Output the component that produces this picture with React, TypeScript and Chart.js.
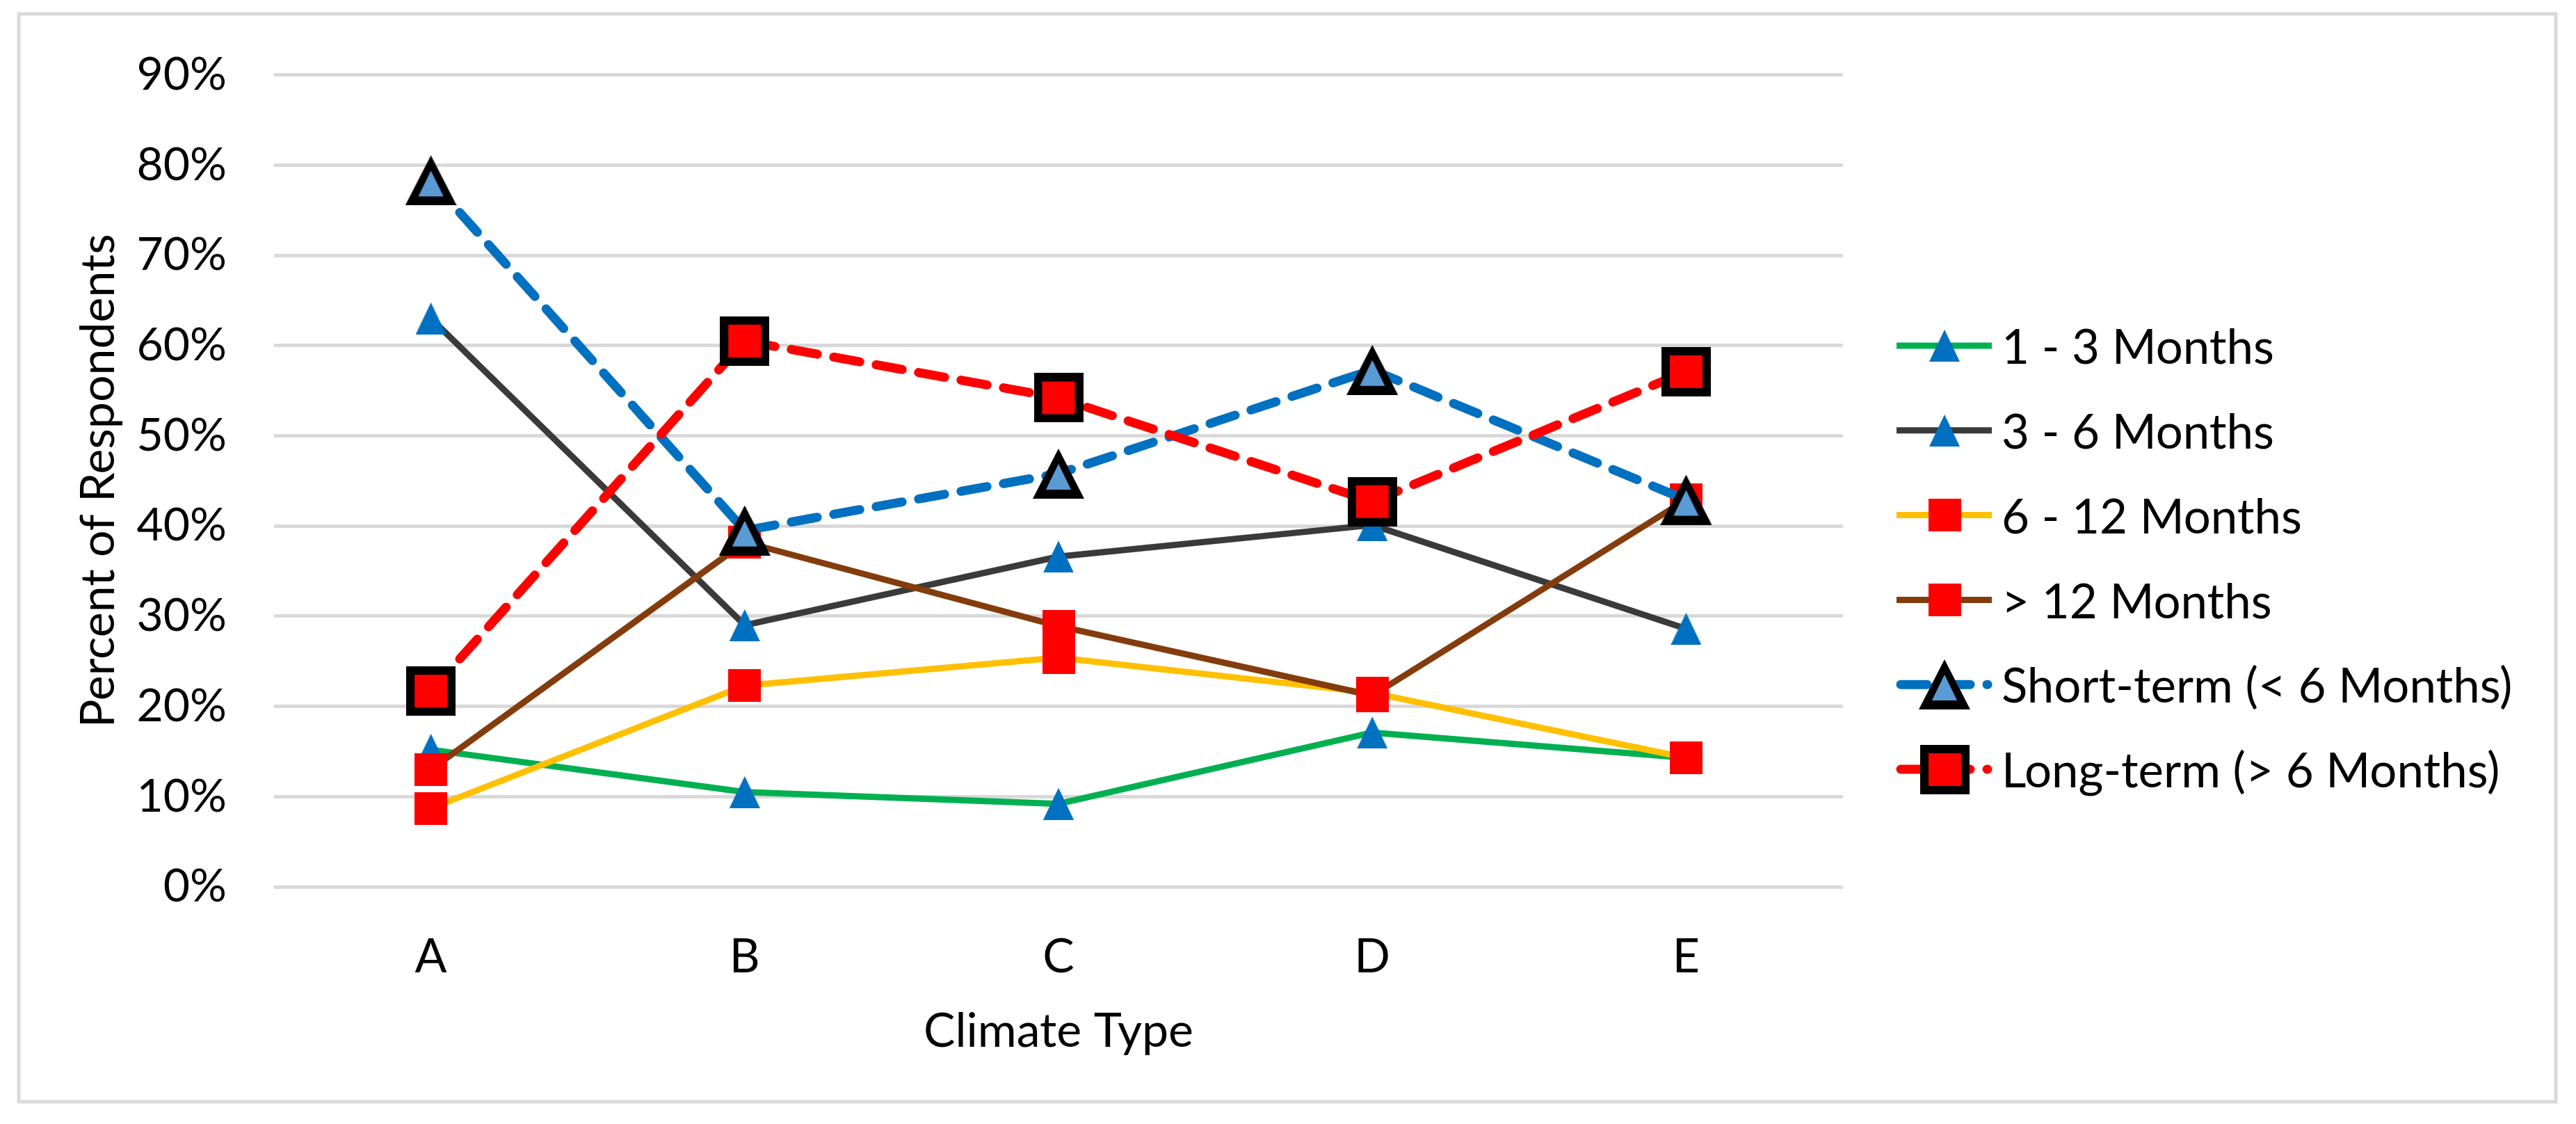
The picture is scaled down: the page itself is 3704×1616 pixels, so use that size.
import React, { useEffect, useRef } from 'react';
import { Chart, registerables } from 'chart.js';

Chart.register(...registerables);

// ---- data ----
const categories = ['A', 'B', 'C', 'D', 'E'];
const seriesLabels = [
  '1 - 3 Months',
  '3 - 6 Months',
  '6 - 12 Months',
  '> 12 Months',
  'Short-term (< 6 Months)',
  'Long-term (> 6 Months)',
];
const oneToThree = [15.2, 10.5, 9.2, 17.1, 14.3];
const threeToSix = [63.0, 29.0, 36.6, 40.1, 28.6];
const sixToTwelve = [8.7, 22.3, 25.4, 21.5, 14.3];
const overTwelve = [13.0, 38.2, 28.9, 21.2, 42.9];
const shortTerm = [78.3, 39.5, 45.8, 57.3, 42.9];
const longTerm = [21.7, 60.5, 54.2, 42.7, 57.1];
const yMin = 0;
const yMax = 90;
const yStep = 10;
const xTitle = 'Climate Type';
const yTitle = 'Percent of Respondents';

const FONT = 'Lato, "Open Sans", sans-serif';
const W = 3704;
const H = 1616;

function makeMarker(w: number, h: number, draw: (c: CanvasRenderingContext2D) => void) {
  const cv = document.createElement('canvas');
  cv.width = w;
  cv.height = h;
  const c = cv.getContext('2d')!;
  draw(c);
  return cv;
}

function smallTriangle() {
  return makeMarker(44, 46, (c) => {
    c.fillStyle = '#0070C0';
    c.beginPath();
    c.moveTo(22, 0);
    c.lineTo(44, 46);
    c.lineTo(0, 46);
    c.closePath();
    c.fill();
  });
}

function bigTriangle() {
  return makeMarker(74, 72, (c) => {
    c.fillStyle = '#000000';
    c.beginPath();
    c.moveTo(37, 0);
    c.lineTo(74, 72);
    c.lineTo(0, 72);
    c.closePath();
    c.fill();
    c.fillStyle = '#5B9BD5';
    c.beginPath();
    c.moveTo(37, 22);
    c.lineTo(55, 59);
    c.lineTo(19, 59);
    c.closePath();
    c.fill();
  });
}

function smallSquare() {
  return makeMarker(47, 47, (c) => {
    c.fillStyle = '#FF0000';
    c.fillRect(0, 0, 47, 47);
  });
}

function bigSquare() {
  return makeMarker(71, 71, (c) => {
    c.fillStyle = '#000000';
    c.fillRect(0, 0, 71, 71);
    c.fillStyle = '#FF0000';
    c.fillRect(12, 12, 47, 47);
  });
}

const frameAndLegend = {
  id: 'frameAndLegend',
  beforeDraw(chart: any) {
    const ctx = chart.ctx;
    ctx.save();
    ctx.fillStyle = '#ffffff';
    ctx.fillRect(0, 0, chart.width, chart.height);
    ctx.strokeStyle = '#D9D9D9';
    ctx.lineWidth = 5;
    ctx.strokeRect(27, 20, 3648, 1564);
    ctx.restore();
  },
  afterDraw(chart: any) {
    const ctx = chart.ctx;
    const x0 = 2727;
    const x1 = 2864;
    const cx = 2796;
    const tx = 2878;
    chart.data.datasets.forEach((ds: any, i: number) => {
      const y = 497 + i * 121.8;
      ctx.save();
      ctx.strokeStyle = ds.borderColor;
      ctx.lineWidth = ds.borderWidth;
      const dashed = ds.borderDash && ds.borderDash.length;
      ctx.setLineDash(dashed ? ds.borderDash : []);
      ctx.lineCap = dashed ? 'round' : 'butt';
      ctx.beginPath();
      ctx.moveTo(dashed ? x0 + 6 : x0, y);
      ctx.lineTo(dashed ? x1 - 6 : x1, y);
      ctx.stroke();
      ctx.setLineDash([]);
      const img = ds.pointStyle as HTMLCanvasElement;
      ctx.drawImage(img, Math.round(cx - img.width / 2), Math.round(y - img.height / 2));
      ctx.fillStyle = '#000000';
      ctx.font = `69px ${FONT}`;
      ctx.textBaseline = 'middle';
      ctx.textAlign = 'left';
      ctx.fillText(ds.label, tx, y + 4);
      ctx.restore();
    });
  },
};

export default function App() {
  const ref = useRef<HTMLCanvasElement | null>(null);

  useEffect(() => {
    if (!ref.current) return;
    const tri = smallTriangle();
    const bigTri = bigTriangle();
    const sq = smallSquare();
    const bigSq = bigSquare();

    const values = [oneToThree, threeToSix, sixToTwelve, overTwelve, shortTerm, longTerm];
    const colors = ['#00B050', '#3A3A3A', '#FFC000', '#843C0C', '#0070C0', '#FF0000'];
    const markers = [tri, tri, sq, sq, bigTri, bigSq];
    const widths = [9, 9, 9, 9, 13, 13];
    const dashes: number[][] = [[], [], [], [], [38, 24], [38, 24]];

    const datasets = values.map((v, i) => ({
      label: seriesLabels[i],
      data: v,
      borderColor: colors[i],
      backgroundColor: colors[i],
      borderWidth: widths[i],
      borderDash: dashes[i],
      borderCapStyle: dashes[i].length ? 'round' : 'butt',
      borderJoinStyle: 'round',
      pointStyle: markers[i],
      pointRadius: 20,
      pointHoverRadius: 20,
      tension: 0,
      clip: false as any,
      order: values.length - i,
    }));

    const textFont = { family: FONT, size: 68 };

    const chart = new Chart(ref.current, {
      type: 'line',
      data: { labels: categories, datasets: datasets as any },
      options: {
        animation: false,
        responsive: true,
        maintainAspectRatio: false,
        events: [],
        layout: { padding: { top: 89, right: W - 2650, bottom: 0, left: 0 } },
        plugins: {
          legend: { display: false },
          tooltip: { enabled: false },
        },
        scales: {
          x: {
            type: 'category',
            offset: true,
            grid: { display: false, drawTicks: false },
            border: { display: false },
            ticks: { font: textFont, color: '#000000', padding: 60, maxRotation: 0, autoSkip: false },
            title: {
              display: true,
              text: xTitle,
              font: textFont,
              color: '#000000',
              padding: { top: 0, bottom: 92 },
            },
            afterFit: (s: any) => {
              s.height = 341;
            },
          },
          y: {
            min: yMin,
            max: yMax,
            ticks: {
              stepSize: yStep,
              font: { family: FONT, size: 66 },
              color: '#000000',
              padding: 68,
              callback: (v: any) => `${v}%`,
            },
            grid: { color: '#D9D9D9', lineWidth: 5, drawTicks: false },
            border: { display: false },
            title: {
              display: true,
              text: yTitle,
              font: textFont,
              color: '#000000',
              padding: { top: 101, bottom: 0 },
            },
            afterFit: (s: any) => {
              s.width = 394;
            },
          },
        },
      },
      plugins: [frameAndLegend],
    });
    return () => chart.destroy();
  }, []);

  return (
    <div style={{ position: 'absolute', left: 0, top: 0, width: W, height: H, background: '#fff' }}>
      <canvas ref={ref} />
    </div>
  );
}
